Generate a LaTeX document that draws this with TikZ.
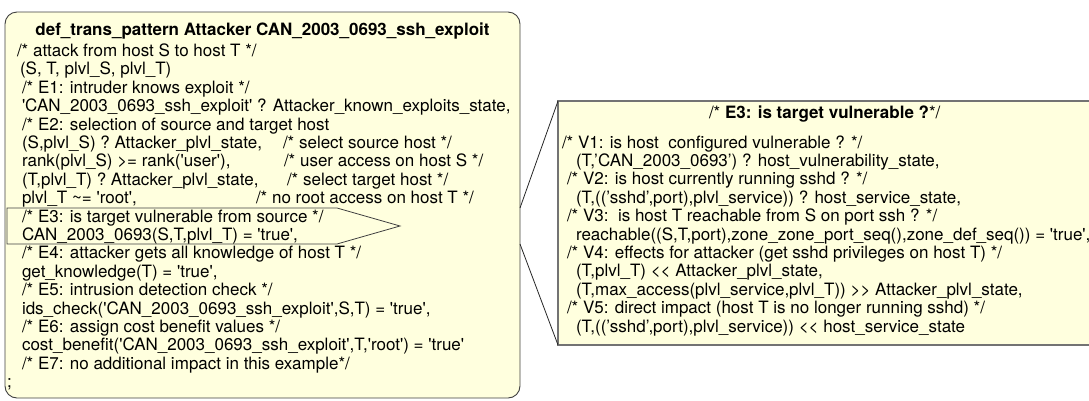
\documentclass[tikz,border=0pt]{standalone}
\usepackage{fontspec}
\setmainfont{TeX Gyre Heros}[Ligatures=TeXOff]
\definecolor{notefill}{RGB}{255,255,222}
\begin{document}
\begin{tikzpicture}[x=1pt,y=-1pt,
  every node/.style={inner sep=0pt, outer sep=0pt},
  codeline/.style={anchor=base west, font=\fontsize{17}{18}\selectfont},
  headline/.style={anchor=base west, font=\fontsize{17}{18}\selectfont\bfseries},
  specbox/.style={draw=black!75, line width=0.9pt, fill=notefill, rounded corners=12pt},
  vulnbox/.style={draw=black!55, line width=1.3pt, fill=notefill},
  e3mark/.style={draw=black!75, line width=0.8pt},
  link/.style={draw=black!85, line width=0.8pt}]
\path[use as bounding box] (0,0) rectangle (1089,400);
\clip (0,0) rectangle (1089,400);

% transition pattern box
\node[specbox, anchor=north west, minimum width=515pt, minimum height=386pt] (spec) at (5,12) {};
% marker around the E3 condition
\draw[e3mark] (7,208) -- (337,208) -- (400,226) -- (337,244) -- (7,244) -- cycle;

% expanded vulnerability condition
\node[vulnbox, anchor=north west, minimum width=540pt, minimum height=244pt] (vuln) at (558,101) {};
\coordinate (e3top) at (520,208);
\coordinate (e3bot) at (520,244);
\draw[link] (e3top) -- (vuln.north west);
\draw[link] (e3bot) -- (vuln.south west);

% pattern text
\node[headline, anchor=base] (title) at (262.5,35) {def\_trans\_pattern Attacker CAN\_2003\_0693\_ssh\_exploit};
\node[codeline] (l1) at (17,56.5) {/* attack from host S to host T */};
\node[codeline] (l2) at (20,74.9) {(S, T, plvl\_S, plvl\_T)};
\node[codeline] (l3) at (22,93.3) {/* E1: intruder knows exploit */};
\node[codeline] (l4) at (22,111.7) {'CAN\_2003\_0693\_ssh\_exploit' ? Attacker\_known\_exploits\_state,};
\node[codeline] (l5) at (22,130.1) {/* E2: selection of source and target host};
\node[codeline] (l6) at (22,148.5) {(S,plvl\_S) ? Attacker\_plvl\_state,};
\node[codeline] (c6) at (283,148.5) {/* select source host */};
\node[codeline] (l7) at (22,166.9) {rank(plvl\_S) >= rank('user'),};
\node[codeline] (c7) at (284,166.9) {/* user access on host S */};
\node[codeline] (l8) at (22,185.3) {(T,plvl\_T) ? Attacker\_plvl\_state,};
\node[codeline] (c8) at (287,185.3) {/* select target host */};
\node[codeline] (l9) at (22,203.7) {plvl\_T \textasciitilde= 'root',};
\node[codeline] (c9) at (256,203.7) {/* no root access on host T */};
\node[codeline] (l10) at (22,222.1) {/* E3: is target vulnerable from source */};
\node[codeline] (l11) at (22,240.5) {CAN\_2003\_0693(S,T,plvl\_T) = 'true',};
\node[codeline] (l12) at (22,258.9) {/* E4: attacker gets all knowledge of host T */};
\node[codeline] (l13) at (22,277.3) {get\_knowledge(T) = 'true',};
\node[codeline] (l14) at (22,295.7) {/* E5: intrusion detection check */};
\node[codeline] (l15) at (22,314.1) {ids\_check('CAN\_2003\_0693\_ssh\_exploit',S,T) = 'true',};
\node[codeline] (l16) at (22,332.5) {/* E6: assign cost benefit values */};
\node[codeline] (l17) at (22,350.9) {cost\_benefit('CAN\_2003\_0693\_ssh\_exploit',T,'root') = 'true'};
\node[codeline] (l18) at (22,369.3) {/* E7: no additional impact in this example*/};
\node[codeline] (l19) at (7,387.7) {;};

% vulnerability condition text
\node[codeline] (vtitle) at (709,118) {/* \textbf{E3: is target vulnerable ?}*/};
\node[codeline] (v1) at (562,148) {/* V1: is host\ \ configured vulnerable ? */};
\node[codeline] (v1a) at (576,166.4) {(T,’CAN\_2003\_0693’) ? host\_vulnerability\_state,};
\node[codeline] (v2) at (567,184.8) {/* V2: is host currently running sshd ? */};
\node[codeline] (v2a) at (576,203.2) {(T,((’sshd’,port),plvl\_service)) ? host\_service\_state,};
\node[codeline] (v3) at (567,221.6) {/* V3:\ \ is host T reachable from S on port ssh ? */};
\node[codeline] (v3a) at (576,240) {reachable((S,T,port),zone\_zone\_port\_seq(),zone\_def\_seq()) = 'true',};
\node[codeline] (v4) at (567,258.4) {/* V4: effects for attacker (get sshd privileges on host T) */};
\node[codeline] (v4a) at (576,276.8) {(T,plvl\_T) << Attacker\_plvl\_state,};
\node[codeline] (v4b) at (576,295.2) {(T,max\_access(plvl\_service,plvl\_T)) >> Attacker\_plvl\_state,};
\node[codeline] (v5) at (567,313.6) {/* V5: direct impact (host T is no longer running sshd) */};
\node[codeline] (v5a) at (576,332) {(T,((’sshd’,port),plvl\_service)) << host\_service\_state};
\end{tikzpicture}
\end{document}
